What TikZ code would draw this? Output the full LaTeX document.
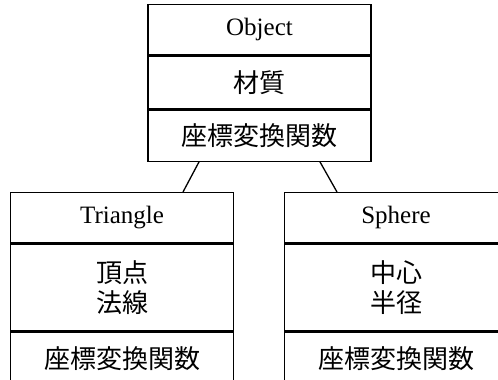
\documentclass[tikz,border=0pt]{standalone}
\usepackage{fontspec}
\setmainfont{Liberation Serif}
\newfontfamily\cjk{Noto Sans CJK JP}
\begin{document}
\begin{tikzpicture}[x=1pt,y=-1pt,
  cell/.style={draw=black, line width=1.3pt, minimum width=223pt, inner sep=0pt, align=center, anchor=north},
  lat/.style={font=\fontsize{25}{30}\selectfont},
  jp/.style={font=\cjk\fontsize{26}{30}\selectfont},
  link/.style={draw=black, line width=1.3pt}]
\useasboundingbox (0,0) rectangle (498,380);
\clip (0,0) rectangle (498,380);
% Object
\node[cell, lat, minimum height=50pt] (o1) at (259.5,4) {Object};
\node[cell, jp, minimum height=53pt] (o2) at (o1.south) {材質};
\node[cell, jp, minimum height=51pt] (o3) at (o2.south) {座標変換関数};
% Triangle
\node[cell, lat, minimum height=50pt] (t1) at (122,192) {Triangle};
\node[cell, jp, minimum height=87pt] (t2) at (t1.south) {頂点\\法線};
\node[cell, jp, minimum height=53pt] (t3) at (t2.south) {座標変換関数};
% Sphere
\node[cell, lat, minimum height=50pt] (s1) at (396,192) {Sphere};
\node[cell, jp, minimum height=87pt] (s2) at (s1.south) {中心\\半径};
\node[cell, jp, minimum height=53pt] (s3) at (s2.south) {座標変換関数};
% connectors
\draw[link] ([xshift=-60.5pt]o3.south) -- ([xshift=61pt]t1.north);
\draw[link] ([xshift=60.5pt]o3.south) -- ([xshift=-59pt]s1.north);
\end{tikzpicture}
\end{document}
